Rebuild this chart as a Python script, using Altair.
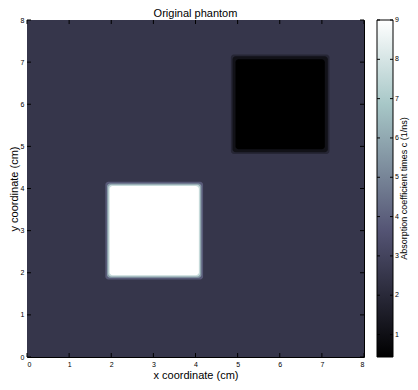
import altair as alt
import pandas as pd

FONT = "Liberation Sans"

# axis ticks (cm)
x_ticks = [0, 1, 2, 3, 4, 5, 6, 7, 8]
y_ticks = [0, 1, 2, 3, 4, 5, 6, 7, 8]
cb_ticks = [1, 2, 3, 4, 5, 6, 7, 8, 9]

# colour limits (absorption coefficient times c, 1/ns)
c_min = 0.4286
c_max = 9.0

# background medium
bg_value = [2.5]
bg_x0 = [0.0]
bg_x1 = [8.0]
bg_y0 = [0.0]
bg_y1 = [8.0]

# inclusions (outer edge blur layers first, then the core)
sq_value = [3.8, 5.7, 7.6, 9.0, 1.9, 1.1, 0.4286]
sq_x0 = [1.86, 1.90, 1.93, 1.96, 4.84, 4.88, 4.95]
sq_x1 = [4.18, 4.14, 4.11, 4.08, 7.18, 7.14, 7.07]
sq_y0 = [1.84, 1.88, 1.91, 1.94, 4.82, 4.86, 4.93]
sq_y1 = [4.16, 4.12, 4.09, 4.06, 7.18, 7.14, 7.07]

# MATLAB "bone" colormap key colours
bone_colors = ["#000000", "#545474", "#a7c7c7", "#ffffff"]
bone_stops = [0.0, 0.375, 0.75, 1.0]

W, H = 337, 337

color_scale = alt.Scale(
    domain=[c_min + s * (c_max - c_min) for s in bone_stops],
    range=bone_colors,
    interpolate="rgb",
)
xs = alt.Scale(domain=[0, 8], nice=False, zero=False)
ys = alt.Scale(domain=[0, 8], nice=False, zero=False)

bg_df = pd.DataFrame({"v": bg_value, "x0": bg_x0, "x1": bg_x1, "y0": bg_y0, "y1": bg_y1})
sq_df = pd.DataFrame({"v": sq_value, "x0": sq_x0, "x1": sq_x1, "y0": sq_y0, "y1": sq_y1})

x_axis = alt.Axis(
    values=x_ticks, ticks=False, domain=False, grid=False,
    labelFontSize=7, labelFont=FONT, labelPadding=3, labelColor="#000",
    title="x coordinate (cm)", titleFont=FONT, titleFontSize=11,
    titleFontWeight="normal", titlePadding=2, titleColor="#000",
)
y_axis = alt.Axis(
    values=y_ticks, ticks=False, domain=False, grid=False,
    labelFontSize=7, labelFont=FONT, labelPadding=3, labelColor="#000",
    title="y coordinate (cm)", titleFont=FONT, titleFontSize=11,
    titleFontWeight="normal", titlePadding=1, titleColor="#000",
)

bg = alt.Chart(bg_df).mark_rect().encode(
    x=alt.X("x0:Q", scale=xs, axis=x_axis),
    x2="x1:Q",
    y=alt.Y("y0:Q", scale=ys, axis=y_axis),
    y2="y1:Q",
    color=alt.Color("v:Q", scale=color_scale, legend=None),
)

sq = alt.Chart(sq_df).mark_rect(cornerRadius=3).encode(
    x=alt.X("x0:Q", scale=xs),
    x2="x1:Q",
    y=alt.Y("y0:Q", scale=ys),
    y2="y1:Q",
    color=alt.Color("v:Q", scale=color_scale, legend=None),
)

xt_df = pd.DataFrame({"t": x_ticks})
yt_df = pd.DataFrame({"t": y_ticks})
tick_style = dict(color="#000", strokeWidth=1)
t_top = alt.Chart(xt_df).mark_rule(**tick_style).encode(
    x=alt.X("t:Q", scale=xs), y=alt.value(0), y2=alt.value(4))
t_bot = alt.Chart(xt_df).mark_rule(**tick_style).encode(
    x=alt.X("t:Q", scale=xs), y=alt.value(H), y2=alt.value(H - 4))
t_left = alt.Chart(yt_df).mark_rule(**tick_style).encode(
    y=alt.Y("t:Q", scale=ys), x=alt.value(0), x2=alt.value(4))
t_right = alt.Chart(yt_df).mark_rule(**tick_style).encode(
    y=alt.Y("t:Q", scale=ys), x=alt.value(W), x2=alt.value(W - 4))

# colour bar: its values are mapped onto the 0..8 plot height
cb_expr = f"(datum.t - {c_min}) / ({c_max} - {c_min}) * 8"
cbx0, cbx1 = W + 13, W + 29
gradient = {
    "gradient": "linear", "x1": 0, "y1": 1, "x2": 0, "y2": 0,
    "stops": [{"offset": s, "color": c} for s, c in zip(bone_stops, bone_colors)],
}
cb_df = pd.DataFrame({"lo": [c_min], "hi": [c_max]})
cb_rect = alt.Chart(cb_df).transform_calculate(
    ylo=f"(datum.lo - {c_min}) / ({c_max} - {c_min}) * 8",
    yhi=f"(datum.hi - {c_min}) / ({c_max} - {c_min}) * 8",
).mark_rect(fill=gradient, stroke="#000", strokeWidth=1).encode(
    x=alt.value(cbx0), x2=alt.value(cbx1),
    y=alt.Y("ylo:Q", scale=ys), y2="yhi:Q",
)
cbt_df = pd.DataFrame({"t": cb_ticks})
cb_base = alt.Chart(cbt_df).transform_calculate(yc=cb_expr)
cb_tl = cb_base.mark_rule(color="#000", strokeWidth=1).encode(
    y=alt.Y("yc:Q", scale=ys), x=alt.value(cbx0), x2=alt.value(cbx0 + 3))
cb_tr = cb_base.mark_rule(color="#000", strokeWidth=1).encode(
    y=alt.Y("yc:Q", scale=ys), x=alt.value(cbx1), x2=alt.value(cbx1 - 3))
cb_lab = cb_base.mark_text(font=FONT, fontSize=7, align="left", baseline="middle",
                           color="#000").encode(
    y=alt.Y("yc:Q", scale=ys), x=alt.value(cbx1 + 2), text=alt.Text("t:Q", format="d"))
cb_title = alt.Chart(pd.DataFrame({"s": ["Absorption coefficient times c (1/ns)"]})).mark_text(
    font=FONT, fontSize=9, angle=270, align="center", baseline="middle", color="#000"
).encode(x=alt.value(cbx1 + 11), y=alt.value(H / 2), text="s:N")

chart = alt.layer(bg, sq, t_top, t_bot, t_left, t_right,
                  cb_rect, cb_tl, cb_tr, cb_lab, cb_title).properties(
    width=W, height=H,
    title=alt.TitleParams("Original phantom", font=FONT, fontSize=11,
                          fontWeight="normal", offset=1, dy=4,
                          color="#000", anchor="middle"),
    padding={"left": 19, "top": 12, "right": 402 - 19 - W, "bottom": 374 - 12 - H},
    autosize=alt.AutoSizeParams(type="none"),
    background="white",
).configure_view(stroke="#000", strokeWidth=1)

chart.save("out.html", embed_options={"renderer": "svg", "actions": False})
